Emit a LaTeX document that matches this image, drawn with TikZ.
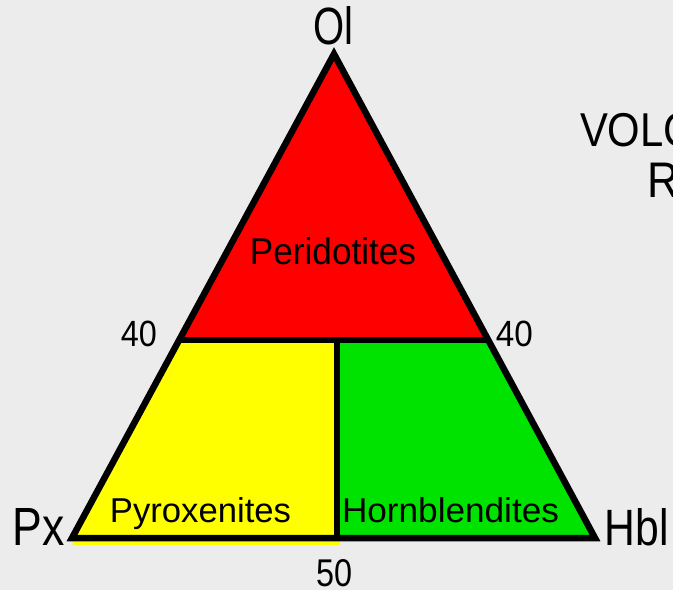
\documentclass[tikz,border=0pt]{standalone}
\usepackage{fontspec}
\setmainfont{Liberation Sans}
\usepackage{graphicx}
\definecolor{bgc}{RGB}{236,236,236}
\definecolor{perc}{RGB}{255,0,0}
\definecolor{pyxc}{RGB}{255,255,0}
\definecolor{hblc}{RGB}{0,226,0}
\newcommand{\lab}[3]{\resizebox{#1pt}{#2pt}{#3}}
\tikzset{
  edge/.style={draw=black,line width=6.5pt,line join=miter,miter limit=10},
  inner/.style={draw=black,line width=6.5pt},
  txt/.style={inner sep=0pt,outer sep=0pt,anchor=base,text=black},
}
\begin{document}
\begin{tikzpicture}[x=1pt,y=-1pt]
\useasboundingbox (0,0) rectangle (673,590);
\fill[bgc] (0,0) rectangle (673,590);
\clip (0,0) rectangle (673,590);
% vertices
\coordinate (ol) at (334,54);
\coordinate (px) at (72,538);
\coordinate (hbl) at (595,538);
\coordinate (l40) at (179.2,340);
\coordinate (r40) at (488.2,340);
\coordinate (m40) at (337,340);
\coordinate (m50) at (337,538);
% fills
\fill[perc] (ol) -- (l40) -- (r40) -- cycle;
\fill[pyxc] (l40) -- (340,340) -- (340,545) -- (73,545) -- (px) -- cycle;
\fill[hblc] (m40) -- (r40) -- (hbl) -- (m50) -- cycle;
% lines
\draw[inner] (l40) -- (r40);
\draw[inner] (m40) -- (m50);
\draw[edge] (ol) -- (px) -- (hbl) -- cycle;
% labels
\node[txt] (tol) at (333.5,44) {\lab{40}{38}{Ol}};
\node[txt] (tpx) at (38.5,545) {\lab{52}{37}{Px}};
\node[txt] (thbl) at (636.5,545) {\lab{64}{37}{Hbl}};
\node[txt] (t40l) at (139,346) {\lab{36}{25.5}{40}};
\node[txt] (t40r) at (514.5,346) {\lab{37}{25.5}{40}};
\node[txt] (t50) at (335,586) {\lab{36}{27}{50}};
\node[txt] (tper) at (333,264) {\lab{166}{27}{Peridotites}};
\node[txt] (tpyx) at (200.5,522) {\lab{181}{25}{Pyroxenites}};
\node[txt] (thb) at (450.5,522) {\lab{217}{25}{Hornblendites}};
\node[txt,anchor=base west] (tvolc) at (580,146) {\fontsize{47.5}{50}\selectfont\scalebox{0.88}[1]{VOLCANIC}};
\node[txt,anchor=base west] (trocks) at (647,197) {\fontsize{50}{52}\selectfont\scalebox{0.88}[1]{ROCKS}};
\end{tikzpicture}
\end{document}
